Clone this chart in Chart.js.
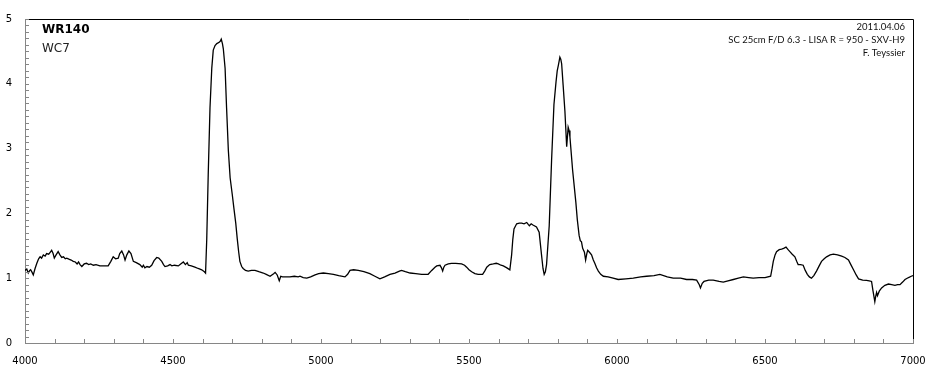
<!DOCTYPE html>
<html><head><meta charset="utf-8">
<script src="https://cdn.jsdelivr.net/npm/chart.js@4.4.0/dist/chart.umd.min.js"></script>
<style>html,body{margin:0;padding:0;background:#fff}#wrap{width:940px;height:375px}</style>
</head><body><div id="wrap"><canvas id="c" width="940" height="375"></canvas></div>
<script>
const wavelengths = [4000,4006,4011,4016,4019,4024,4028,4034,4040,4046,4051,4056,4062,4068,4073,4080,4085,4090,4095,4099,4105,4112,4118,4124,4130,4136,4141,4150,4156,4163,4170,4176,4181,4186,4192,4200,4208,4215,4222,4231,4240,4253,4265,4281,4290,4298,4306,4315,4320,4327,4333,4338,4344,4351,4358,4366,4376,4388,4396,4400,4405,4412,4420,4428,4436,4445,4452,4462,4468,4473,4482,4490,4496,4505,4518,4526,4535,4542,4548,4552,4562,4574,4585,4597,4606,4610,4614,4619,4625,4631,4636,4642,4648,4656,4660,4663,4667,4670,4676,4681,4687,4693,4700,4706,4712,4717,4722,4726,4732,4737,4745,4754,4765,4777,4790,4805,4815,4828,4840,4845,4852,4859,4864,4870,4882,4895,4910,4923,4929,4940,4952,4965,4980,4992,5008,5025,5042,5060,5081,5090,5098,5110,5126,5145,5165,5182,5199,5215,5233,5250,5265,5272,5285,5301,5320,5340,5362,5374,5385,5391,5402,5407,5411,5415,5419,5430,5441,5455,5475,5485,5492,5500,5509,5520,5531,5546,5553,5560,5570,5582,5592,5599,5608,5616,5628,5638,5644,5648,5652,5661,5670,5678,5686,5695,5700,5704,5710,5716,5728,5737,5745,5750,5754,5758,5762,5771,5779,5787,5794,5798,5802,5807,5810,5813,5818,5824,5830,5835,5838,5841,5850,5861,5866,5872,5876,5880,5884,5890,5894,5898,5901,5907,5914,5920,5925,5931,5937,5945,5954,5970,5987,6004,6030,6055,6080,6100,6125,6145,6170,6190,6215,6235,6255,6269,6278,6282,6288,6294,6310,6325,6345,6359,6375,6393,6410,6427,6445,6460,6480,6500,6519,6524,6528,6534,6539,6548,6556,6563,6571,6578,6584,6592,6601,6607,6612,6620,6629,6636,6643,6650,6657,6665,6674,6683,6691,6700,6708,6720,6731,6745,6759,6770,6782,6790,6799,6808,6816,6830,6843,6852,6860,6865,6871,6874,6877,6880,6886,6894,6905,6917,6928,6939,6948,6956,6965,6973,6985,6994,7000];
const flux = [1.12,1.14,1.08,1.12,1.13,1.09,1.05,1.15,1.23,1.30,1.33,1.31,1.36,1.34,1.38,1.37,1.40,1.43,1.38,1.31,1.36,1.41,1.36,1.32,1.33,1.30,1.31,1.29,1.28,1.26,1.25,1.22,1.25,1.21,1.18,1.22,1.23,1.21,1.22,1.20,1.21,1.19,1.19,1.19,1.26,1.33,1.30,1.31,1.38,1.42,1.36,1.28,1.36,1.42,1.38,1.26,1.24,1.21,1.17,1.20,1.16,1.18,1.17,1.20,1.27,1.32,1.31,1.26,1.21,1.18,1.19,1.21,1.19,1.20,1.19,1.22,1.25,1.21,1.24,1.20,1.19,1.17,1.15,1.13,1.10,1.08,1.60,2.60,3.63,4.24,4.52,4.59,4.62,4.64,4.66,4.69,4.62,4.54,4.24,3.63,2.97,2.55,2.30,2.07,1.85,1.61,1.40,1.26,1.18,1.15,1.12,1.11,1.12,1.12,1.10,1.08,1.06,1.03,1.07,1.09,1.05,0.96,1.03,1.02,1.02,1.02,1.03,1.02,1.03,1.01,1.00,1.02,1.05,1.07,1.08,1.07,1.06,1.04,1.02,1.06,1.12,1.13,1.12,1.10,1.07,1.03,0.99,1.02,1.06,1.08,1.11,1.12,1.10,1.08,1.07,1.06,1.06,1.12,1.17,1.19,1.20,1.16,1.11,1.17,1.20,1.22,1.23,1.23,1.22,1.20,1.17,1.13,1.10,1.07,1.06,1.06,1.11,1.17,1.21,1.22,1.23,1.22,1.20,1.19,1.16,1.13,1.36,1.60,1.76,1.84,1.85,1.85,1.84,1.86,1.83,1.81,1.84,1.82,1.79,1.71,1.36,1.15,1.06,1.10,1.21,1.81,2.82,3.68,4.03,4.20,4.29,4.41,4.38,4.31,3.98,3.58,3.03,3.33,3.28,3.18,2.67,2.17,1.90,1.66,1.58,1.56,1.46,1.40,1.28,1.38,1.43,1.40,1.36,1.28,1.23,1.16,1.11,1.06,1.03,1.02,1.00,0.98,0.99,1.00,1.02,1.03,1.04,1.06,1.02,1.00,1.00,0.98,0.98,0.97,0.90,0.85,0.92,0.95,0.97,0.97,0.95,0.94,0.96,0.98,1.00,1.02,1.01,1.00,1.01,1.01,1.03,1.15,1.26,1.36,1.41,1.44,1.45,1.46,1.48,1.44,1.41,1.37,1.33,1.26,1.21,1.21,1.20,1.12,1.06,1.02,1.00,1.04,1.11,1.19,1.26,1.30,1.33,1.36,1.37,1.36,1.34,1.32,1.28,1.21,1.13,1.05,0.99,0.97,0.965,0.96,0.95,0.80,0.64,0.72,0.78,0.73,0.80,0.85,0.89,0.91,0.90,0.89,0.90,0.90,0.94,0.98,1.01,1.03,1.04];
const xTickLabels = [4000,4500,5000,5500,6000,6500,7000];
const yTickLabels = [0,1,2,3,4,5];
const titleLines = ['WR140','WC7'];
const infoLines = ['2011.04.06','SC 25cm F/D 6.3 - LISA R = 950 - SXV-H9','F. Teyssier'];

const points = wavelengths.map((w,i)=>({x:w,y:flux[i]}));

const framePlugin = {
  id:'frame',
  afterDraw(chart){
    const {ctx, chartArea:a, scales:{x,y}} = chart;
    ctx.save();
    ctx.strokeStyle='#000'; ctx.lineWidth=1;
    ctx.beginPath();
    ctx.moveTo(a.left, a.top+0.5); ctx.lineTo(a.right+0.5, a.top+0.5); ctx.lineTo(a.right+0.5, a.bottom);
    ctx.stroke();
    ctx.strokeStyle='#868686';
    ctx.beginPath();
    for(let v=x.min; v<=x.max+1e-6; v+=100){
      const px=Math.round(x.getPixelForValue(v))+0.5;
      ctx.moveTo(px,a.bottom); ctx.lineTo(px,a.bottom-4);
    }
    for(let k=0; k<=50; k++){
      const v=k/10;
      const py=Math.round(y.getPixelForValue(v))+0.5;
      ctx.moveTo(a.left,py); ctx.lineTo(a.left+4,py);
    }
    ctx.stroke();
    ctx.fillStyle='#000';
    ctx.textBaseline='alphabetic';
    ctx.textAlign='left';
    ctx.font='bold 12px "DejaVu Sans"';
    ctx.fillText(titleLines[0], 42, 33);
    ctx.font='12px "DejaVu Sans"';
    ctx.fillStyle='#222';
    ctx.fillText(titleLines[1], 42, 52);
    ctx.textAlign='right';
    ctx.font='9.5px Lato';
    ctx.fillStyle='#111';
    infoLines.forEach((t,i)=>ctx.fillText(t, 905, 30+i*13));
    ctx.restore();
  }
};

new Chart(document.getElementById('c'), {
  type:'line',
  data:{datasets:[{data:points, borderColor:'#000', borderWidth:1.3, pointRadius:0, tension:0, fill:false}]},
  options:{
    responsive:false, animation:false, devicePixelRatio:1,
    layout:{padding:{left:0,right:27,top:13,bottom:0}},
    plugins:{legend:{display:false}, tooltip:{enabled:false}},
    scales:{
      x:{type:'linear', min:4000, max:7000,
        afterBuildTicks(s){ s.ticks = xTickLabels.map(v=>({value:v})); },
        afterFit(s){ s.height=32; },
        grid:{display:false, drawTicks:false, tickLength:0}, border:{display:true,color:'#868686',width:1},
        ticks:{padding:12, color:'#000', font:{family:'DejaVu Sans', size:10}, maxRotation:0, autoSkip:false, callback:v=>String(v)}},
      y:{type:'linear', min:0, max:5,
        afterBuildTicks(s){ s.ticks = yTickLabels.map(v=>({value:v})); },
        afterFit(s){ s.width=25; },
        grid:{display:false, drawTicks:false, tickLength:0}, border:{display:true,color:'#868686',width:1},
        ticks:{padding:13, color:'#000', font:{family:'DejaVu Sans', size:10}, callback:v=>String(v)}}
    }
  },
  plugins:[framePlugin]
});
</script></body></html>
